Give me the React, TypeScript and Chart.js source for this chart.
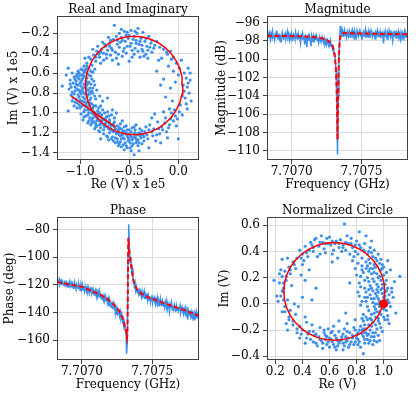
import React, { useEffect, useRef } from "react";
import { Chart, registerables } from "chart.js";

Chart.register(...registerables);

const FONT_FAMILY = "'DejaVu Serif', serif";
const FONT_SIZE = 12;
const BLUE = "rgb(58,143,238)";
const RED = "rgb(255,0,0)";
const GRID = "#dcdcdc";
const SPINE = "#404040";

// ---------- frequency sweep (offsets in kHz from FREQ_START_GHZ) ----------
const FREQ_START_GHZ = 7.706823;
const FREQ_OFFSET_KHZ = [
  0, 5, 10, 15, 20, 25, 30, 35, 40, 45,
  50, 55, 60, 65, 70, 75, 80, 85, 90, 95,
  100, 105, 110, 115, 120, 125, 130, 135, 140, 145,
  150, 155, 160, 165, 170, 175, 180, 185, 190, 195,
  200, 205, 210, 215, 220, 225, 230, 235, 240, 245,
  250, 255, 260, 265, 270, 275, 280, 285, 290, 295,
  300, 305, 310, 315, 320, 325, 330, 335, 340, 345,
  350, 355, 360, 365, 370, 375, 380, 385, 390, 395,
  400, 405, 410, 415, 420, 425, 430, 435, 440, 445,
  450, 455, 460, 465, 470, 475, 480, 485, 490, 495,
  500, 505, 510, 515, 520, 525, 530, 535, 540, 545,
  550, 555, 560, 565, 570, 575, 580, 585, 590, 595,
  600, 605, 610, 615, 620, 625, 630, 635, 640, 645,
  650, 655, 660, 665, 670, 675, 680, 685, 690, 695,
  700, 705, 710, 715, 720, 725, 730, 735, 740, 745,
  750, 755, 760, 765, 770, 775, 780, 785, 790, 795,
  800, 805, 810, 815, 820, 825, 830, 835, 840, 845,
  850, 855, 860, 865, 870, 875, 880, 885, 890, 895,
  900, 905, 910, 915, 920, 925, 930, 935, 940, 945,
  950, 955, 960, 965, 970, 975, 980, 985, 990, 995,
  1000, 1005, 1010,
];

// measured magnitude (dB)
const MAG_DB = [
  -97.3, -97.8, -97.4, -97.1, -97.6, -97.9, -97.2, -97.5, -97.0, -97.7,
  -97.4, -97.9, -97.3, -97.6, -96.9, -97.5, -97.8, -97.2, -97.6, -98.1,
  -97.3, -97.7, -97.1, -97.5, -97.9, -97.4, -97.2, -97.8, -97.5, -97.0,
  -97.6, -97.3, -97.9, -97.4, -97.7, -97.2, -97.6, -98.0, -97.3, -97.5,
  -97.8, -97.1, -97.6, -97.4, -97.9, -97.3, -97.7, -97.5, -98.2, -97.4,
  -97.6, -97.2, -97.8, -97.5, -98.4, -97.3, -97.9, -98.7, -97.6, -97.4,
  -98.0, -97.5, -97.8, -98.6, -97.4, -97.7, -98.1, -97.6, -97.9, -97.5,
  -97.9, -97.5, -98.0, -97.7, -98.2, -97.6, -97.9, -98.1, -97.7, -98.0,
  -97.9, -98.2, -97.8, -98.3, -98.0, -98.4, -97.9, -98.2, -98.5, -98.1,
  -98.3, -98.0, -98.6, -98.4, -98.9, -98.7, -99.5, -99.3, -100.4, -101.2,
  -104.5, -110.4, -104.0, -99.8, -98.0, -96.4, -96.9,
  -97.3, -96.9, -97.5, -97.1, -96.8, -97.4, -97.2, -97.6, -97.0, -97.3,
  -97.5, -96.9, -97.2, -97.7, -97.1, -96.8, -97.4, -97.2, -97.8, -97.0,
  -97.3, -97.6, -96.9, -97.2, -97.5, -97.1, -96.7, -97.4, -97.3, -97.9,
  -97.2, -97.0, -97.5, -97.3, -96.8, -97.6, -97.2, -97.4, -97.0, -97.7,
  -97.1, -97.4, -96.9, -97.3, -97.6, -97.2, -97.0, -97.5, -97.8, -97.1,
  -97.3, -96.9, -97.6, -97.2, -97.4, -97.0, -97.7, -97.3, -97.1, -97.5,
  -98.3, -97.2, -97.6, -97.0, -97.4, -97.8, -97.2, -97.5, -96.9, -97.3,
  -97.6, -97.1, -97.4, -98.0, -97.2, -97.5, -96.9, -97.3, -97.7, -97.2,
  -97.4, -97.0, -97.6, -97.3, -97.8, -97.1, -97.5, -97.2, -97.9, -97.3,
  -97.0, -97.6, -97.2, -97.5, -97.3, -97.7,
];

// measured phase (deg)
const PHASE_DEG = [
  -116.5, -119.2, -117.3, -115.8, -119.6, -118.1, -116.9, -120.3, -117.6, -118.8,
  -120.4, -116.8, -119.7, -121.2, -117.9, -118.5, -121.6, -119.1, -117.4, -120.8,
  -118.6, -121.9, -119.3, -122.4, -120.1, -117.8, -121.5, -123.0, -119.6, -120.9,
  -122.6, -119.4, -121.8, -124.1, -120.5, -122.9, -119.8, -123.5, -121.2, -124.4,
  -121.0, -123.8, -125.2, -121.9, -124.6, -122.3, -125.8, -123.1, -121.7, -126.0,
  -123.4, -126.7, -124.0, -127.3, -125.1, -123.6, -128.2, -124.9, -127.6, -125.3,
  -128.9, -125.4, -127.8, -130.2, -126.6, -129.5, -131.4, -127.9, -130.6, -128.3,
  -131.8, -129.0, -133.1, -130.4, -135.2, -131.6, -134.0, -136.3, -132.2, -135.7,
  -133.5, -137.8, -135.1, -140.6, -136.4, -138.9, -137.2, -141.3, -138.0, -142.5,
  -139.6, -143.8, -141.4, -146.2, -144.3, -149.5, -147.8, -153.1, -152.0, -170.0,
  -161.5,
  -99.0, -76.0, -93.0, -104.0, -100.0, -110.0, -108.0, -116.0, -117.5, -121.0,
  -118.5, -123.8, -121.9, -125.6, -122.7, -126.4, -124.3, -127.9, -124.8,
  -128.6, -125.1, -129.8, -126.9, -124.6, -130.4, -127.3, -129.9, -126.2, -131.0,
  -127.8, -130.9, -128.4, -132.6, -129.7, -127.5, -133.1, -130.3, -128.9, -132.0,
  -134.2, -130.6, -132.9, -129.4, -135.0, -131.8, -133.6, -130.2, -134.8, -132.4,
  -131.1, -135.4, -133.0, -136.2, -132.5, -134.9, -131.7, -137.1, -133.8, -135.6,
  -139.5, -134.1, -136.7, -133.2, -138.3, -135.0, -137.6, -134.4, -136.9, -139.8,
  -135.2, -138.4, -136.0, -139.1, -137.3, -134.9, -140.2, -137.8, -136.4, -139.6,
  -141.5, -137.6, -139.9, -136.8, -140.7, -138.4, -145.2, -139.1, -141.8, -138.7,
  -142.6, -139.4, -141.9, -140.3, -143.5, -140.8, -145.8, -141.2, -143.9, -140.5,
  -142.8, -141.1, -146.0,
];

// fitted model, magnitude
const MAG_FIT_KHZ = [0, 100, 200, 300, 350, 400, 430, 450, 465, 475, 483, 490, 495, 499, 502, 504, 505, 506, 507, 509, 511, 514, 518, 522, 527, 535, 550, 600, 700, 800, 900, 1010];
const MAG_FIT_DB = [-97.45, -97.47, -97.5, -97.55, -97.62, -97.75, -97.92, -98.15, -98.45, -98.85, -99.4, -100.3, -101.5, -103.3, -105.5, -107.6, -108.8, -108.3, -107.0, -105.0, -103.0, -100.5, -98.8, -97.9, -97.45, -97.25, -97.15, -97.18, -97.22, -97.25, -97.27, -97.3];

// fitted model, phase
const PHASE_FIT_KHZ = [0, 100, 177, 250, 311, 360, 406, 440, 465, 480, 490, 495, 498, 500, 502, 504, 506, 507, 509, 512, 516, 523, 535, 547, 571, 594, 630, 665, 720, 783, 840, 901, 960, 1010];
const PHASE_FIT_DEG = [-118.0, -120.0, -121.4, -124.5, -127.3, -130.3, -134.5, -138.5, -144.0, -149.0, -153.5, -156.5, -158.5, -157.0, -148.0, -125.0, -95.0, -86.0, -88.0, -93.0, -98.0, -102.5, -111.0, -118.5, -123.6, -126.0, -128.2, -129.7, -131.8, -134.0, -136.0, -138.2, -140.5, -142.4];

// raw IQ points (V x 1e5): [Re, Im]
const RAW_IQ = [
  [-0.97,-0.75],[-1.02,-0.72],[-0.94,-0.68],[-0.99,-0.81],[-1.05,-0.78],[-0.92,-0.77],[-0.96,-0.63],[-1.01,-0.66],[-0.89,-0.71],[-1.07,-0.70],
  [-0.98,-0.88],[-0.93,-0.84],[-1.04,-0.86],[-0.90,-0.90],[-0.95,-0.93],[-1.00,-0.95],[-0.87,-0.80],[-1.09,-0.82],[-1.03,-0.61],[-0.95,-0.58],
  [-0.91,-0.62],[-0.99,-0.56],[-1.06,-0.64],[-0.88,-0.66],[-0.93,-0.72],[-1.00,-0.70],[-0.97,-0.79],[-1.03,-0.90],[-0.92,-0.97],[-0.86,-0.93],
  [-1.11,-0.76],[-1.08,-0.88],[-0.96,-0.99],[-0.89,-0.85],[-0.94,-0.80],[-1.01,-0.84],[-0.98,-0.67],[-0.90,-0.75],[-1.05,-0.74],[-0.85,-0.72],
  [-1.12,-0.98],[-1.18,-0.73],[-1.12,-0.55],[-1.06,-0.93],[-0.99,-1.01],[-0.91,-0.55],[-0.87,-0.59],[-1.02,-0.58],[-0.96,-0.71],[-0.93,-0.89],
  [-1.04,-0.68],[-0.90,-0.81],[-0.83,-0.77],[-0.84,-0.86],[-1.08,-0.60],[-0.98,-0.62],[-0.95,-0.86],[-1.01,-0.77],[-0.88,-0.96],[-1.10,-0.67],
  [-0.95,-0.74],[-1.00,-0.79],[-0.93,-0.65],[-1.03,-0.76],[-0.97,-0.84],[-0.91,-0.69],[-1.06,-0.81],[-0.99,-0.73],[-0.94,-0.91],[-1.02,-0.64],
  [-0.96,-0.60],[-0.89,-0.63],[-1.04,-0.71],[-0.92,-0.82],[-0.98,-0.77],[-1.07,-0.85],[-0.90,-0.87],[-1.01,-0.92],[-0.95,-0.97],[-0.87,-0.75],
  [-1.05,-0.66],[-0.97,-0.57],[-0.93,-0.60],[-1.00,-0.62],[-0.88,-0.78],[-1.09,-0.74],[-0.96,-0.89],[-1.02,-0.82],[-0.91,-0.93],[-0.85,-0.83],
  [-0.99,-0.69],[-0.94,-0.75],[-1.03,-0.95],[-0.89,-0.58],[-1.08,-0.79],[-0.92,-0.70],[-0.98,-0.93],[-1.01,-0.60],[-0.86,-0.68],[-1.05,-0.89],
  [-0.94,-0.56],[-1.10,-0.71],[-0.97,-0.65],[-0.90,-0.79],[-1.00,-0.87],[-0.88,-0.91],[-1.04,-0.63],[-0.95,-0.81],[-0.93,-0.53],[-1.14,-0.62],
  [-0.93,-0.50],[-0.89,-0.46],[-0.86,-0.42],[-0.83,-0.38],[-0.96,-0.53],[-0.88,-0.52],[-0.80,-0.44],[-0.84,-0.48],[-0.91,-0.44],[-0.78,-0.36],
  [-0.82,-0.33],[-0.76,-0.40],[-0.87,-0.36],[-0.95,-0.45],[-0.79,-0.50],[-0.74,-0.33],[-0.85,-0.56],[-0.77,-0.29],[-0.72,-0.37],[-0.81,-0.41],
  [-0.70,-0.30],[-0.66,-0.26],[-0.62,-0.31],[-0.58,-0.24],[-0.54,-0.28],[-0.50,-0.22],[-0.46,-0.26],[-0.42,-0.20],[-0.38,-0.25],[-0.34,-0.28],
  [-0.68,-0.35],[-0.64,-0.39],[-0.60,-0.34],[-0.56,-0.38],[-0.52,-0.33],[-0.48,-0.30],[-0.44,-0.35],[-0.40,-0.31],[-0.36,-0.38],[-0.32,-0.33],
  [-0.65,-0.12],[-0.55,-0.18],[-0.48,-0.17],[-0.41,-0.15],[-0.36,-0.19],[-0.60,-0.20],[-0.52,-0.19],[-0.30,-0.23],[-0.71,-0.24],[-0.45,-0.41],
  [-0.57,-0.43],[-0.63,-0.45],[-0.69,-0.42],[-0.39,-0.44],[-0.33,-0.41],[-0.28,-0.30],[-0.25,-0.35],[-0.22,-0.28],[-0.27,-0.39],[-0.19,-0.34],
  [-0.67,-0.47],[-0.59,-0.29],[-0.53,-0.40],[-0.47,-0.37],[-0.43,-0.27],[-0.73,-0.45],[-0.61,-0.51],[-0.50,-0.48],[-0.37,-0.32],[-0.31,-0.45],
  [-0.75,-0.31],[-0.69,-0.27],[-0.63,-0.23],[-0.57,-0.27],[-0.51,-0.25],[-0.45,-0.23],[-0.39,-0.28],[-0.33,-0.25],[-0.27,-0.27],[-0.79,-0.39],
  [-0.73,-0.41],[-0.67,-0.37],[-0.61,-0.41],[-0.55,-0.35],[-0.49,-0.33],[-0.43,-0.30],[-0.37,-0.36],[-0.31,-0.37],[-0.24,-0.32],[-0.84,-0.44],
  [-0.58,-0.16],[-0.44,-0.18],[-0.53,-0.22],[-0.62,-0.27],[-0.70,-0.33],[-0.47,-0.44],[-0.35,-0.43],[-0.29,-0.34],[-0.41,-0.38],[-0.76,-0.47],
  [-0.15,-0.36],[-0.11,-0.41],[-0.08,-0.38],[-0.05,-0.44],[-0.17,-0.45],[-0.02,-0.50],[0.03,-0.47],[0.10,-0.55],[0.12,-0.60],[0.08,-0.65],
  [0.05,-0.72],[0.11,-0.80],[0.07,-0.85],[0.13,-0.88],[0.02,-0.92],[0.09,-0.96],[0.04,-1.02],[-0.01,-1.06],[-0.04,-0.97],[0.06,-0.78],
  [-0.15,-0.66],[-0.10,-0.53],[-0.06,-0.88],[-0.22,-0.58],[-0.08,-0.75],[0.00,-0.62],[-0.13,-0.84],[-0.03,-0.69],[0.10,-0.70],[-0.20,-0.47],
  [-0.12,-0.39],[-0.07,-0.46],[0.01,-0.55],[0.06,-0.60],[0.09,-0.74],[0.04,-0.83],[0.08,-0.91],[0.01,-0.99],[-0.03,-1.03],[-0.08,-1.06],
  [-0.14,-1.10],[-0.20,-1.16],[-0.27,-1.19],[-0.22,-1.22],[-0.16,-1.17],[-0.10,-1.15],[-0.30,-1.17],[-0.05,-0.58],[-0.18,-0.72],[0.12,-0.67],
  [-0.05,-1.08],[-0.09,-1.12],[-0.13,-1.05],[-0.17,-1.14],[-0.21,-1.09],[-0.25,-1.16],[-0.29,-1.12],[-0.12,-1.19],[-0.19,-1.21],[-0.26,-1.23],
  [0.00,-1.26],[-0.30,-1.35],[-0.23,-1.28],[-0.34,-1.19],[-0.07,-1.00],[-0.15,-0.99],[-0.31,-1.26],[-0.02,-1.13],[-0.37,-1.31],[-0.27,-1.05],
  [-0.11,-1.25],[-0.33,-1.14],[-0.18,-1.30],[-0.24,-1.01],[-0.09,-0.96],
  [-0.40,-1.20],[-0.44,-1.24],[-0.48,-1.19],[-0.52,-1.23],[-0.56,-1.18],[-0.60,-1.22],[-0.64,-1.16],[-0.42,-1.28],[-0.46,-1.31],[-0.50,-1.27],
  [-0.54,-1.30],[-0.58,-1.26],[-0.62,-1.29],[-0.38,-1.25],[-0.45,-1.42],[-0.49,-1.35],[-0.55,-1.37],[-0.41,-1.33],[-0.36,-1.22],[-0.47,-1.15],
  [-0.53,-1.13],[-0.59,-1.11],[-0.65,-1.09],[-0.43,-1.12],[-0.39,-1.16],[-0.61,-1.33],[-0.67,-1.24],[-0.70,-1.20],[-0.72,-1.14],[-0.66,-1.28],
  [-0.51,-1.21],[-0.45,-1.21],[-0.57,-1.22],[-0.63,-1.20],[-0.69,-1.17],[-0.35,-1.28],[-0.40,-1.38],[-0.58,-1.34],[-0.48,-1.24],[-0.44,-1.17],
  [-0.52,-1.17],[-0.60,-1.15],[-0.74,-1.10],[-0.68,-1.13],[-0.56,-1.25],[-0.42,-1.22],[-0.37,-1.18],[-0.64,-1.25],[-0.71,-1.27],[-0.53,-1.33],
  [-0.47,-1.27],[-0.61,-1.19],[-0.55,-1.14],[-0.49,-1.30],[-0.66,-1.19],[-0.39,-1.23],[-0.43,-1.26],[-0.59,-1.29],[-0.73,-1.23],[-0.51,-1.25],
  [-0.76,-1.12],[-0.80,-1.08],[-0.84,-1.04],[-0.88,-1.00],[-0.78,-1.02],[-0.82,-0.98],[-0.86,-1.09],[-0.90,-1.05],[-0.75,-1.06],[-0.79,-1.15],
  [-0.83,-1.13],[-0.87,-0.95],[-0.91,-1.00],[-0.77,-0.97],[-0.81,-1.18],[-0.85,-1.16],[-0.73,-1.04],[-0.70,-1.07],[-0.68,-1.02],[-0.94,-1.03],
  [-0.89,-1.12],[-0.84,-0.93],[-0.80,-1.00],[-0.76,-1.17],[-0.72,-0.99],[-0.97,-1.07],[-0.92,-1.10],[-0.79,-0.93],[-0.86,-1.02],[-0.74,-1.13],
  [-0.82,-1.06],[-0.78,-1.09],[-0.70,-1.11],[-0.65,-1.05],[-0.88,-1.07],[-0.93,-0.94],[-0.84,-1.11],[-0.81,-0.95],[-0.75,-1.00],[-0.69,-1.16],
  [-0.67,-0.97],[-0.77,-0.88],[-0.72,-0.85],[-0.80,-0.83],[-0.63,-1.00],
  [-0.85,-1.00],[-0.81,-1.03],[-0.77,-1.07],[-0.73,-1.09],[-0.69,-1.12],[-0.65,-1.14],[-0.61,-1.17],[-0.57,-1.19],[-0.53,-1.21],[-0.49,-1.22],
  [-0.87,-1.05],[-0.83,-1.08],[-0.79,-1.11],[-0.75,-1.14],[-0.71,-1.16],[-0.67,-1.18],[-0.63,-1.21],[-0.59,-1.23],[-0.55,-1.26],[-0.51,-1.28],
  [-0.89,-0.97],[-0.86,-0.99],[-0.82,-1.01],[-0.78,-1.05],[-0.74,-1.07],[-0.70,-1.09],[-0.66,-1.11],[-0.62,-1.13],[-0.58,-1.16],[-0.54,-1.19],
  [-0.46,-1.25],[-0.44,-1.20],[-0.41,-1.27],[-0.38,-1.21],[-0.35,-1.24],[-0.32,-1.22],[-0.47,-1.33],[-0.43,-1.30],[-0.52,-1.35],[-0.60,-1.31],
  [-0.68,-1.26],[-0.76,-1.21],[-0.84,-1.14],[-0.91,-1.08],[-0.80,-1.19],[-0.72,-1.24],[-0.64,-1.30],[-0.56,-1.32],[-0.48,-1.38],[-0.40,-1.30],
  [-0.92,-1.02],[-0.96,-1.04],[-0.88,-1.10],[-0.80,-1.12],[-0.62,-1.26],[-0.50,-1.17],[-0.45,-1.14],[-0.57,-1.08],[-0.71,-1.03],[-0.79,-1.26],
];

// fitted model in raw IQ plane: off-resonant tail and resonance circle
const RAW_FIT_TAIL = [[-1.09,-0.83],[-1.00,-0.895],[-0.90,-0.965],[-0.80,-1.035],[-0.70,-1.10],[-0.64,-1.14]];
const RAW_FIT_CIRCLE = [
  [0.045,-0.725],[0.0375,-0.639],[0.0152,-0.5557],[-0.0213,-0.4775],[-0.0708,-0.4068],[-0.1318,-0.3458],
  [-0.2025,-0.2963],[-0.2807,-0.2598],[-0.364,-0.2375],[-0.45,-0.23],[-0.536,-0.2375],[-0.6193,-0.2598],
  [-0.6975,-0.2963],[-0.7682,-0.3458],[-0.8292,-0.4068],[-0.8787,-0.4775],[-0.9152,-0.5557],[-0.9375,-0.639],
  [-0.945,-0.725],[-0.9375,-0.811],[-0.9152,-0.8943],[-0.8787,-0.9725],[-0.8292,-1.0432],[-0.7682,-1.1042],
  [-0.6975,-1.1537],[-0.6193,-1.1902],[-0.536,-1.2125],[-0.45,-1.22],[-0.364,-1.2125],[-0.2807,-1.1902],
  [-0.2025,-1.1537],[-0.1318,-1.1042],[-0.0708,-1.0432],[-0.0213,-0.9725],[0.0152,-0.8943],[0.0375,-0.811],
  [0.045,-0.725],
];

// normalized IQ points (V): [Re, Im]
const NORM_IQ = [
  [0.97,0.02],[1.00,-0.04],[0.95,0.06],[1.03,0.03],[0.98,-0.08],[0.93,-0.02],[1.02,0.10],[0.96,0.13],[0.99,0.08],[1.05,-0.02],
  [0.94,-0.10],[0.91,0.04],[1.01,-0.12],[0.97,-0.15],[0.92,0.10],[1.04,0.07],[0.95,-0.06],[0.99,0.15],[0.89,-0.05],[1.06,0.12],
  [0.93,0.17],[0.96,0.20],[1.00,0.22],[0.91,0.23],[0.98,0.26],[0.94,0.28],[0.88,0.20],[1.02,0.18],[0.90,0.14],[0.87,0.09],
  [0.92,-0.14],[0.88,-0.12],[0.95,-0.19],[0.90,-0.20],[0.86,-0.16],[0.99,-0.21],[0.93,-0.25],[0.85,-0.08],[1.03,-0.09],[0.97,-0.02],
  [1.07,0.05],[1.09,-0.07],[1.12,0.21],[1.08,0.17],[1.05,0.26],[0.84,0.02],[0.83,-0.01],[0.86,0.12],[1.01,0.03],[0.96,-0.11],
  [0.90,0.31],[0.87,0.27],[0.95,0.33],[0.99,0.30],[0.92,0.36],[1.03,0.33],[0.85,0.24],[0.82,0.16],[0.94,0.00],[0.91,-0.08],
  [0.98,0.11],[1.00,0.05],[0.96,0.09],[0.88,0.05],[0.93,0.24],[1.04,-0.15],[0.89,0.34],[0.86,-0.22],[0.97,-0.28],[0.81,0.09],
  [0.96,0.04],[0.99,-0.02],[0.94,0.08],[1.01,0.06],[0.97,-0.06],[0.92,0.01],[1.03,0.12],[0.95,0.15],[0.98,0.18],[1.04,0.01],
  [0.93,-0.07],[0.90,0.07],[1.00,-0.10],[0.96,-0.13],[0.91,0.12],[1.06,0.09],[0.94,-0.04],[0.97,0.21],[0.88,-0.02],[1.02,0.24],
  [0.92,0.19],[0.95,0.23],[0.99,0.27],[0.89,0.17],[0.97,0.31],[0.93,0.30],[0.86,0.18],[1.01,0.15],[0.89,0.11],[0.86,0.05],
  [0.91,-0.17],[0.87,-0.10],[0.94,-0.16],[0.89,-0.23],[0.85,-0.19],[0.98,-0.18],[0.92,-0.22],[0.84,-0.11],[1.02,-0.05],[0.96,0.00],
  [0.90,0.27],[0.87,0.32],[0.94,0.35],[0.98,0.34],[0.91,0.39],[1.00,0.28],[0.84,0.26],[0.83,0.13],[0.93,0.04],[0.90,-0.11],
  [0.99,0.12],[1.01,0.09],[0.95,0.11],[0.87,0.02],[0.92,0.27],[1.03,-0.12],[0.88,0.29],[0.84,-0.20],[0.96,-0.24],[0.82,0.06],
  [0.88,0.38],[0.85,0.41],[0.82,0.45],[0.90,0.43],[0.79,0.40],[0.84,0.35],[0.80,0.48],[0.86,0.46],[0.77,0.43],[0.93,0.41],
  [0.82,0.55],[0.76,0.50],[0.74,0.46],[0.72,0.41],[0.81,0.31],[0.78,0.36],[0.75,0.38],[0.87,0.52],[0.91,0.48],[0.84,0.29],
  [0.70,0.45],[0.68,0.49],[0.71,0.61],[0.73,0.52],[0.79,0.27],[0.83,0.21],[0.96,0.38],[0.77,0.33],[0.89,0.25],[0.80,0.22],
  [0.86,0.40],[0.83,0.43],[0.79,0.45],[0.76,0.46],[0.72,0.47],[0.67,0.46],[0.62,0.48],[0.57,0.46],[0.53,0.47],[0.48,0.43],
  [0.65,0.48],[0.61,0.45],[0.58,0.50],[0.55,0.47],[0.52,0.44],[0.49,0.49],[0.56,0.42],[0.63,0.41],[0.60,0.51],[0.47,0.45],
  [0.45,0.41],[0.42,0.44],[0.40,0.38],[0.44,0.36],[0.53,0.38],[0.67,0.43],[0.50,0.50],[0.57,0.39],[0.38,0.41],[0.36,0.35],
  [0.62,0.38],[0.66,0.35],[0.48,0.40],[0.54,0.52],[0.59,0.46],[0.64,0.46],[0.46,0.47],[0.41,0.33],[0.69,0.40],[0.51,0.36],
  [0.43,0.39],[0.39,0.35],[0.34,0.30],[0.31,0.26],[0.28,0.21],[0.26,0.16],[0.25,0.10],[0.26,0.03],[0.27,-0.06],[0.30,-0.12],
  [0.33,-0.16],[0.36,-0.19],[0.89,0.40],[0.81,0.38],[0.70,0.43],
  [0.33,0.32],[0.30,0.28],[0.27,0.25],[0.25,0.21],[0.23,0.16],[0.26,0.12],[0.24,0.06],[0.22,0.02],[0.28,0.18],[0.31,0.23],
  [0.25,0.34],[0.29,0.35],[0.21,0.06],[0.19,0.18],[0.27,-0.02],[0.25,-0.06],[0.30,-0.10],[0.28,-0.15],[0.33,-0.13],[0.31,-0.05],
  [0.35,0.27],[0.26,0.09],[0.24,0.26],[0.32,0.14],[0.29,0.03],[0.35,-0.08],[0.38,-0.17],[0.36,-0.22],[0.29,-0.20],[0.34,0.00],
  [0.23,0.23],[0.40,0.30],[0.39,0.22],[0.37,-0.02],[0.42,-0.10],
  [0.40,-0.20],[0.44,-0.23],[0.48,-0.21],[0.52,-0.25],[0.56,-0.22],[0.60,-0.26],[0.64,-0.24],[0.68,-0.28],[0.72,-0.25],[0.76,-0.29],
  [0.80,-0.26],[0.84,-0.23],[0.46,-0.27],[0.50,-0.30],[0.54,-0.28],[0.58,-0.31],[0.62,-0.29],[0.66,-0.32],[0.70,-0.30],[0.74,-0.33],
  [0.78,-0.31],[0.82,-0.29],[0.86,-0.27],[0.88,-0.24],[0.42,-0.30],[0.38,-0.26],[0.55,-0.34],[0.65,-0.35],[0.85,-0.38],[0.59,-0.19],
  [0.63,-0.17],[0.67,-0.21],[0.71,-0.19],[0.75,-0.22],[0.79,-0.20],[0.83,-0.17],[0.87,-0.19],[0.90,-0.28],[0.92,-0.31],[0.94,-0.22],
  [0.50,-0.23],[0.53,-0.18],[0.57,-0.27],[0.61,-0.22],[0.69,-0.25],[0.73,-0.21],[0.77,-0.26],[0.81,-0.22],[0.89,-0.16],[0.91,-0.12],
  [0.47,-0.16],[0.43,-0.14],[0.73,-0.15],[0.67,-0.13],[0.79,-0.12],[0.85,-0.13],[0.81,-0.31],[0.95,-0.29],[0.60,-0.33],[0.70,-0.35],
  [0.45,-0.21],[0.49,-0.24],[0.53,-0.27],[0.57,-0.24],[0.61,-0.27],[0.65,-0.26],[0.69,-0.27],[0.73,-0.28],[0.77,-0.24],[0.81,-0.27],
  [0.85,-0.25],[0.87,-0.22],[0.51,-0.32],[0.55,-0.30],[0.59,-0.29],[0.63,-0.31],[0.67,-0.30],[0.71,-0.32],[0.75,-0.31],[0.79,-0.29],
  [0.83,-0.33],[0.89,-0.30],[0.91,-0.25],[0.93,-0.28],[0.39,-0.23],[0.43,-0.26],[0.62,-0.21],[0.70,-0.23],[0.78,-0.18],[0.86,-0.30],
  [0.48,-0.29],[0.56,-0.20],[0.64,-0.33],[0.72,-0.29],[0.80,-0.24],[0.88,-0.27],[0.58,-0.25],[0.66,-0.28],[0.74,-0.26],[0.82,-0.20],
  [0.47,0.03],[0.42,0.18],[0.45,0.26],[0.40,0.05],[0.62,0.32],[0.75,0.16],[0.72,-0.07],[0.50,0.12],
];

const NORM_FIT_CIRCLE = [
  [1.008,0.095],[1.0024,0.1599],[0.9856,0.2226],[0.958,0.2815],[0.9207,0.3348],[0.8748,0.3807],
  [0.8215,0.418],[0.7626,0.4456],[0.6999,0.4624],[0.635,0.468],[0.5701,0.4624],[0.5074,0.4456],
  [0.4485,0.418],[0.3952,0.3807],[0.3493,0.3348],[0.312,0.2815],[0.2844,0.2226],[0.2676,0.1599],
  [0.262,0.095],[0.2676,0.0301],[0.2844,-0.0326],[0.312,-0.0915],[0.3493,-0.1448],[0.3952,-0.1907],
  [0.4485,-0.228],[0.5074,-0.2556],[0.5701,-0.2724],[0.635,-0.278],[0.6999,-0.2724],[0.7626,-0.2556],
  [0.8215,-0.228],[0.8748,-0.1907],[0.9207,-0.1448],[0.958,-0.0915],[0.9856,-0.0326],[1.0024,0.0301],
  [1.008,0.095],
];
const NORM_OFF_RESONANCE = [[1.0, 0.0]];

// tick values
const RAW_RE_TICKS = [-1.0, -0.5, 0.0];
const RAW_IM_TICKS = [-1.4, -1.2, -1.0, -0.8, -0.6, -0.4, -0.2];
const FREQ_TICKS = [7.707, 7.7075];
const MAG_TICKS = [-110, -108, -106, -104, -102, -100, -98, -96];
const PHASE_TICKS = [-160, -140, -120, -100, -80];
const NORM_RE_TICKS = [0.2, 0.4, 0.6, 0.8, 1.0];
const NORM_IM_TICKS = [-0.4, -0.2, 0.0, 0.2, 0.4, 0.6];

const minus = (s: string) => s.replace("-", "\u2212");
const fmt = (digits: number) => (v: number) => minus(Number(v).toFixed(digits));

const pairs = (arr: number[][]) => arr.map(([x, y]) => ({ x, y }));
const freqSeries = (khz: number[], vals: number[]) =>
  khz.slice(0, vals.length).map((k, i) => ({ x: FREQ_START_GHZ + k * 1e-6, y: vals[i] }));

const panelTextPlugin = {
  id: "panelText",
  afterDraw(chart: any, _args: any, opts: any) {
    const { ctx, chartArea: a } = chart;
    ctx.save();
    ctx.strokeStyle = SPINE;
    ctx.lineWidth = 1;
    ctx.strokeRect(a.left + 0.5, a.top + 0.5, a.right - a.left - 1, a.bottom - a.top - 1);
    ctx.fillStyle = "#000";
    ctx.font = `${FONT_SIZE}px ${FONT_FAMILY}`;
    ctx.textAlign = "center";
    ctx.textBaseline = "alphabetic";
    const cx = (a.left + a.right) / 2;
    ctx.fillText(opts.title, cx, a.top - 3.5);
    ctx.fillText(opts.xLabel, cx, a.bottom + 28);
    ctx.translate(opts.yLabelX, (a.top + a.bottom) / 2);
    ctx.rotate(-Math.PI / 2);
    ctx.fillText(opts.yLabel, 0, 0);
    ctx.restore();
  },
};

function axis(kind: "x" | "y", min: number, max: number, ticks: number[], format: (v: number) => string, size: number) {
  return {
    type: "linear",
    position: kind === "x" ? "bottom" : "left",
    min,
    max,
    afterBuildTicks: (s: any) => {
      s.ticks = ticks.map((v) => ({ value: v }));
    },
    afterFit: (s: any) => {
      if (kind === "x") s.height = size;
      else s.width = size;
    },
    ticks: {
      autoSkip: false,
      maxRotation: 0,
      minRotation: 0,
      padding: kind === "x" ? 1 : 3,
      color: "#000",
      font: { family: FONT_FAMILY, size: FONT_SIZE },
      callback: (v: number) => format(v),
    },
    grid: { color: GRID, lineWidth: 1, drawTicks: true, tickLength: 4, tickColor: SPINE, tickWidth: 1 },
    border: { display: false },
  };
}

type PanelDef = {
  left: number;
  top: number;
  padTop: number;
  padRight: number;
  yAxisWidth: number;
  xAxisHeight: number;
  x: [number, number, number[], (v: number) => string];
  y: [number, number, number[], (v: number) => string];
  title: string;
  xLabel: string;
  yLabel: string;
  yLabelX: number;
  datasets: any[];
};

function buildConfig(p: PanelDef): any {
  return {
    type: "scatter",
    data: { datasets: p.datasets },
    options: {
      animation: false,
      responsive: false,
      events: [],
      layout: { padding: { left: 0, top: p.padTop, right: p.padRight, bottom: 0 } },
      plugins: {
        legend: { display: false },
        tooltip: { enabled: false },
        title: { display: false },
        panelText: { title: p.title, xLabel: p.xLabel, yLabel: p.yLabel, yLabelX: p.yLabelX },
      },
      scales: {
        x: axis("x", p.x[0], p.x[1], p.x[2], p.x[3], p.xAxisHeight),
        y: axis("y", p.y[0], p.y[1], p.y[2], p.y[3], p.yAxisWidth),
      },
    },
    plugins: [panelTextPlugin],
  };
}

const lineDs = (data: any[], color: string, width: number, dash: number[] = []) => ({
  data,
  showLine: true,
  borderColor: color,
  backgroundColor: color,
  borderWidth: width,
  borderDash: dash,
  pointRadius: 0,
  tension: 0,
});
const dotsDs = (data: any[], color: string, radius: number) => ({
  data,
  showLine: false,
  pointRadius: radius,
  pointBackgroundColor: color,
  pointBorderWidth: 0,
  backgroundColor: color,
  borderColor: color,
  borderWidth: 0,
});

const FREQ_MIN = FREQ_START_GHZ;
const FREQ_MAX = FREQ_START_GHZ + 1010e-6;

const PANELS: PanelDef[] = [
  {
    left: 0, top: 0, padTop: 16, padRight: 9, yAxisWidth: 57, xAxisHeight: 38,
    x: [-1.234, 0.21, RAW_RE_TICKS, fmt(1)],
    y: [-1.473, -0.026, RAW_IM_TICKS, fmt(1)],
    title: "Real and Imaginary", xLabel: "Re (V) x 1e5", yLabel: "Im (V) x 1e5", yLabelX: 16.5,
    datasets: [
      lineDs(pairs(RAW_FIT_TAIL), RED, 1.5),
      lineDs(pairs(RAW_FIT_CIRCLE), RED, 1.5),
      dotsDs(pairs(RAW_IQ), BLUE, 1.6),
    ],
  },
  {
    left: 208, top: 0, padTop: 16, padRight: 8, yAxisWidth: 59, xAxisHeight: 38,
    x: [FREQ_MIN, FREQ_MAX, FREQ_TICKS, fmt(4)],
    y: [-111.0, -95.3, MAG_TICKS, fmt(0)],
    title: "Magnitude", xLabel: "Frequency (GHz)", yLabel: "Magnitude (dB)", yLabelX: 16.5,
    datasets: [
      lineDs(freqSeries(MAG_FIT_KHZ, MAG_FIT_DB), RED, 2, [5, 2.5]),
      lineDs(freqSeries(FREQ_OFFSET_KHZ, MAG_DB), BLUE, 1.5),
    ],
  },
  {
    left: 0, top: 198, padTop: 19, padRight: 9, yAxisWidth: 57, xAxisHeight: 36,
    x: [FREQ_MIN, FREQ_MAX, FREQ_TICKS, fmt(4)],
    y: [-174.5, -70.8, PHASE_TICKS, fmt(0)],
    title: "Phase", xLabel: "Frequency (GHz)", yLabel: "Phase (deg)", yLabelX: 13,
    datasets: [
      lineDs(freqSeries(PHASE_FIT_KHZ, PHASE_FIT_DEG), RED, 2, [5, 2.5]),
      lineDs(freqSeries(FREQ_OFFSET_KHZ, PHASE_DEG), BLUE, 1.5),
    ],
  },
  {
    left: 208, top: 198, padTop: 19, padRight: 8, yAxisWidth: 59, xAxisHeight: 36,
    x: [0.138, 1.18, NORM_RE_TICKS, fmt(1)],
    y: [-0.428, 0.663, NORM_IM_TICKS, fmt(1)],
    title: "Normalized Circle", xLabel: "Re (V)", yLabel: "Im (V)", yLabelX: 19.7,
    datasets: [
      dotsDs(pairs(NORM_OFF_RESONANCE), RED, 4.5),
      lineDs(pairs(NORM_FIT_CIRCLE), RED, 1.5),
      dotsDs(pairs(NORM_IQ), BLUE, 1.6),
    ],
  },
];

function Panel({ def }: { def: PanelDef }) {
  const ref = useRef<HTMLCanvasElement | null>(null);
  useEffect(() => {
    if (!ref.current) return;
    const chart = new Chart(ref.current, buildConfig(def));
    return () => chart.destroy();
  }, [def]);
  return (
    <canvas
      ref={ref}
      width={208}
      height={198}
      style={{ position: "absolute", left: def.left, top: def.top, width: 208, height: 198 }}
    />
  );
}

export default function App() {
  return (
    <div style={{ position: "fixed", left: 0, top: 0, width: 416, height: 396, background: "#fff", overflow: "hidden" }}>
      {PANELS.map((p, i) => (
        <Panel key={i} def={p} />
      ))}
    </div>
  );
}
